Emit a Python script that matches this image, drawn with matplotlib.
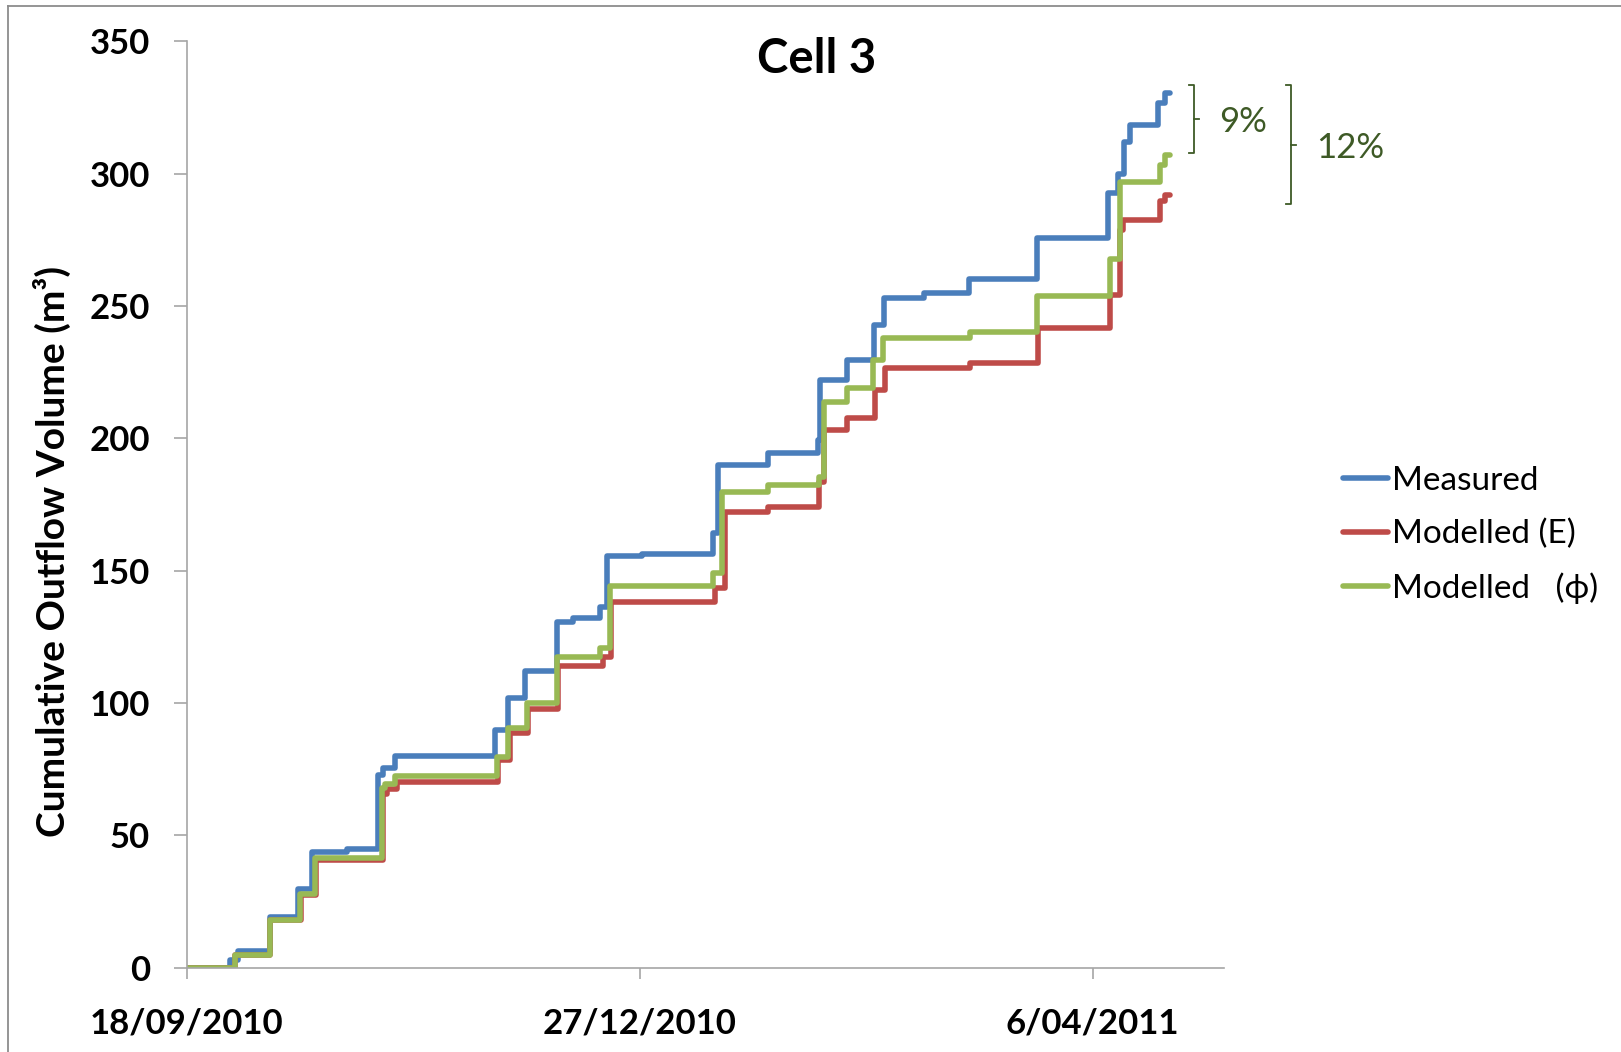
import datetime as dt

import matplotlib
matplotlib.use('Agg')
from matplotlib import pyplot as plt, dates as mdates, transforms
from matplotlib.lines import Line2D
from matplotlib.ticker import FuncFormatter, MultipleLocator

plt.rcParams['font.family'] = ['Lato', 'DejaVu Sans']

start = dt.datetime(2010, 9, 18)

# day of each outflow event (days after 18/09/2010) and cumulative volume after it (m3)
measured_days = [0, 9.6, 11.4, 18.4, 24.7, 27.6, 35.5, 42.3, 43.3, 46.0,
                 68.1, 71.0, 74.7, 81.7, 85.4, 91.3, 92.8, 100.5, 116.3, 117.4,
                 128.4, 139.3, 139.8, 145.7, 151.8, 154.0, 162.8, 172.6, 187.7, 203.5,
                 205.7, 207.0, 208.3, 214.5, 216.0, 217.1]
measured_vol = [0, 2.8, 6.3, 19.0, 29.5, 43.8, 44.9, 72.8, 75.3, 80.0,
                89.8, 101.7, 112.0, 130.7, 132.0, 136.1, 155.5, 156.2, 164.1, 189.9,
                194.3, 199.4, 222.0, 229.6, 242.8, 252.9, 255.0, 260.1, 275.6, 292.6,
                300.0, 312.0, 318.4, 326.6, 330.4, 330.4]

model_e_days = [0, 10.7, 18.4, 25.2, 28.6, 43.3, 44.2, 46.5,
                68.8, 71.3, 75.4, 82.0, 92.0, 93.7, 116.7, 118.9,
                128.4, 139.5, 140.8, 145.7, 152.0, 154.2, 173.0, 188.0,
                203.9, 206.1, 206.8, 214.9, 216.0, 217.1]
model_e_vol = [0, 4.7, 18.0, 27.5, 40.7, 65.6, 67.5, 70.1,
               78.4, 88.5, 97.6, 114.1, 117.5, 138.3, 143.3, 172.3,
               174.2, 183.6, 203.1, 207.6, 218.3, 226.5, 228.4, 241.8,
               254.2, 278.7, 282.5, 289.8, 292.0, 292.0]

model_phi_days = [0, 10.7, 18.4, 25.0, 28.4, 43.1, 43.8, 46.0,
                  68.5, 71.0, 75.1, 81.7, 91.3, 93.5, 116.3, 118.1,
                  128.4, 139.5, 140.6, 145.7, 151.6, 153.8, 173.0, 187.7,
                  203.9, 206.1, 214.9, 216.0, 217.1]
model_phi_vol = [0, 4.7, 18.0, 27.8, 41.5, 67.7, 69.3, 72.4,
                 79.7, 90.4, 100.1, 117.5, 120.6, 144.2, 149.0, 179.8,
                 182.4, 185.5, 213.8, 218.9, 229.6, 237.8, 240.0, 253.8,
                 267.8, 297.0, 303.3, 307.1, 307.1]

series = [
    ('Measured', measured_days, measured_vol, '#4A7EBB'),
    ('Modelled (E)', model_e_days, model_e_vol, '#BE4B48'),
    ('Modelled   (\u03d5)', model_phi_days, model_phi_vol, '#98B954'),
]

# brackets showing the gap between final volumes
brackets = [('9%', 333.5, 307.8), ('12%', 333.5, 288.5)]
bracket_x = [0.7366, 0.7967]
annot_green = '#3E5A26'
axis_grey = '#A6A6A6'

fig = plt.figure(figsize=(16.21, 10.52), dpi=100)
ax = fig.add_axes([0.1151, 0.0803, 0.6400, 0.8804])

for label, days, vol, color in series:
    x = [start + dt.timedelta(days=d) for d in days]
    ax.step(x, vol, where='post', color=color, lw=4.0, label=label,
            solid_capstyle='round', solid_joinstyle='round')

ax.set_xlim(start, start + dt.timedelta(days=229))
ax.set_ylim(0, 350)
ax.yaxis.set_major_locator(MultipleLocator(50))
ax.set_xticks([start, start + dt.timedelta(days=100), start + dt.timedelta(days=200)])


def date_label(v, pos):
    d = mdates.num2date(v)
    return f'{d.day}/{d.month:02d}/{d.year}'


ax.xaxis.set_major_formatter(FuncFormatter(date_label))

for side in ['top', 'right']:
    ax.spines[side].set_visible(False)
for side in ['left', 'bottom']:
    ax.spines[side].set_color(axis_grey)
    ax.spines[side].set_linewidth(1.2)
ax.tick_params(axis='y', direction='out', length=9.5, width=1.2, color=axis_grey,
               pad=17, labelsize=25)
ax.tick_params(axis='x', direction='out', length=8, width=1.2, color=axis_grey,
               pad=21, labelsize=25)
for lab in ax.get_xticklabels() + ax.get_yticklabels():
    lab.set_fontweight('bold')

fig.text(0.5040, 0.9306, 'Cell 3', fontsize=34, fontweight='bold',
         ha='center', va='baseline')
fig.text(0.032, 0.476, 'Cumulative Outflow Volume (m\u00b3)', fontsize=28,
         fontweight='bold', rotation=90, ha='center', va='center')

leg = fig.legend(loc='center left', bbox_to_anchor=(0.8285, 0.4915), frameon=False,
                 handlelength=1.36, handletextpad=0.12, labelspacing=0.69,
                 borderpad=0, borderaxespad=0,
                 prop={'family': ['Lato', 'DejaVu Sans'], 'size': 24})

# percentage brackets at the end of the series
tr = transforms.blended_transform_factory(fig.transFigure, ax.transData)
serif = 5 / 1621
for (text, top, bottom), bx in zip(brackets, bracket_x):
    mid = (top + bottom) / 2
    fig.add_artist(Line2D([bx - serif, bx, bx, bx - serif], [top, top, bottom, bottom],
                          transform=tr, color=annot_green, lw=1.3))
    fig.add_artist(Line2D([bx, bx + serif], [mid, mid], transform=tr,
                          color=annot_green, lw=1.3))
    fig.text(bx + 25 / 1621, mid, text, transform=tr, fontsize=25,
             color=annot_green, ha='left', va='center_baseline')

# outer frame of the chart area
fig.add_artist(Line2D([8 / 1621, 1], [1 - 6 / 1052, 1 - 6 / 1052],
                      transform=fig.transFigure, color='#8C8C8C', lw=1.3))
fig.add_artist(Line2D([8 / 1621, 8 / 1621], [0, 1 - 6 / 1052],
                      transform=fig.transFigure, color='#8C8C8C', lw=1.3))

fig.savefig('out.png', dpi=100)
